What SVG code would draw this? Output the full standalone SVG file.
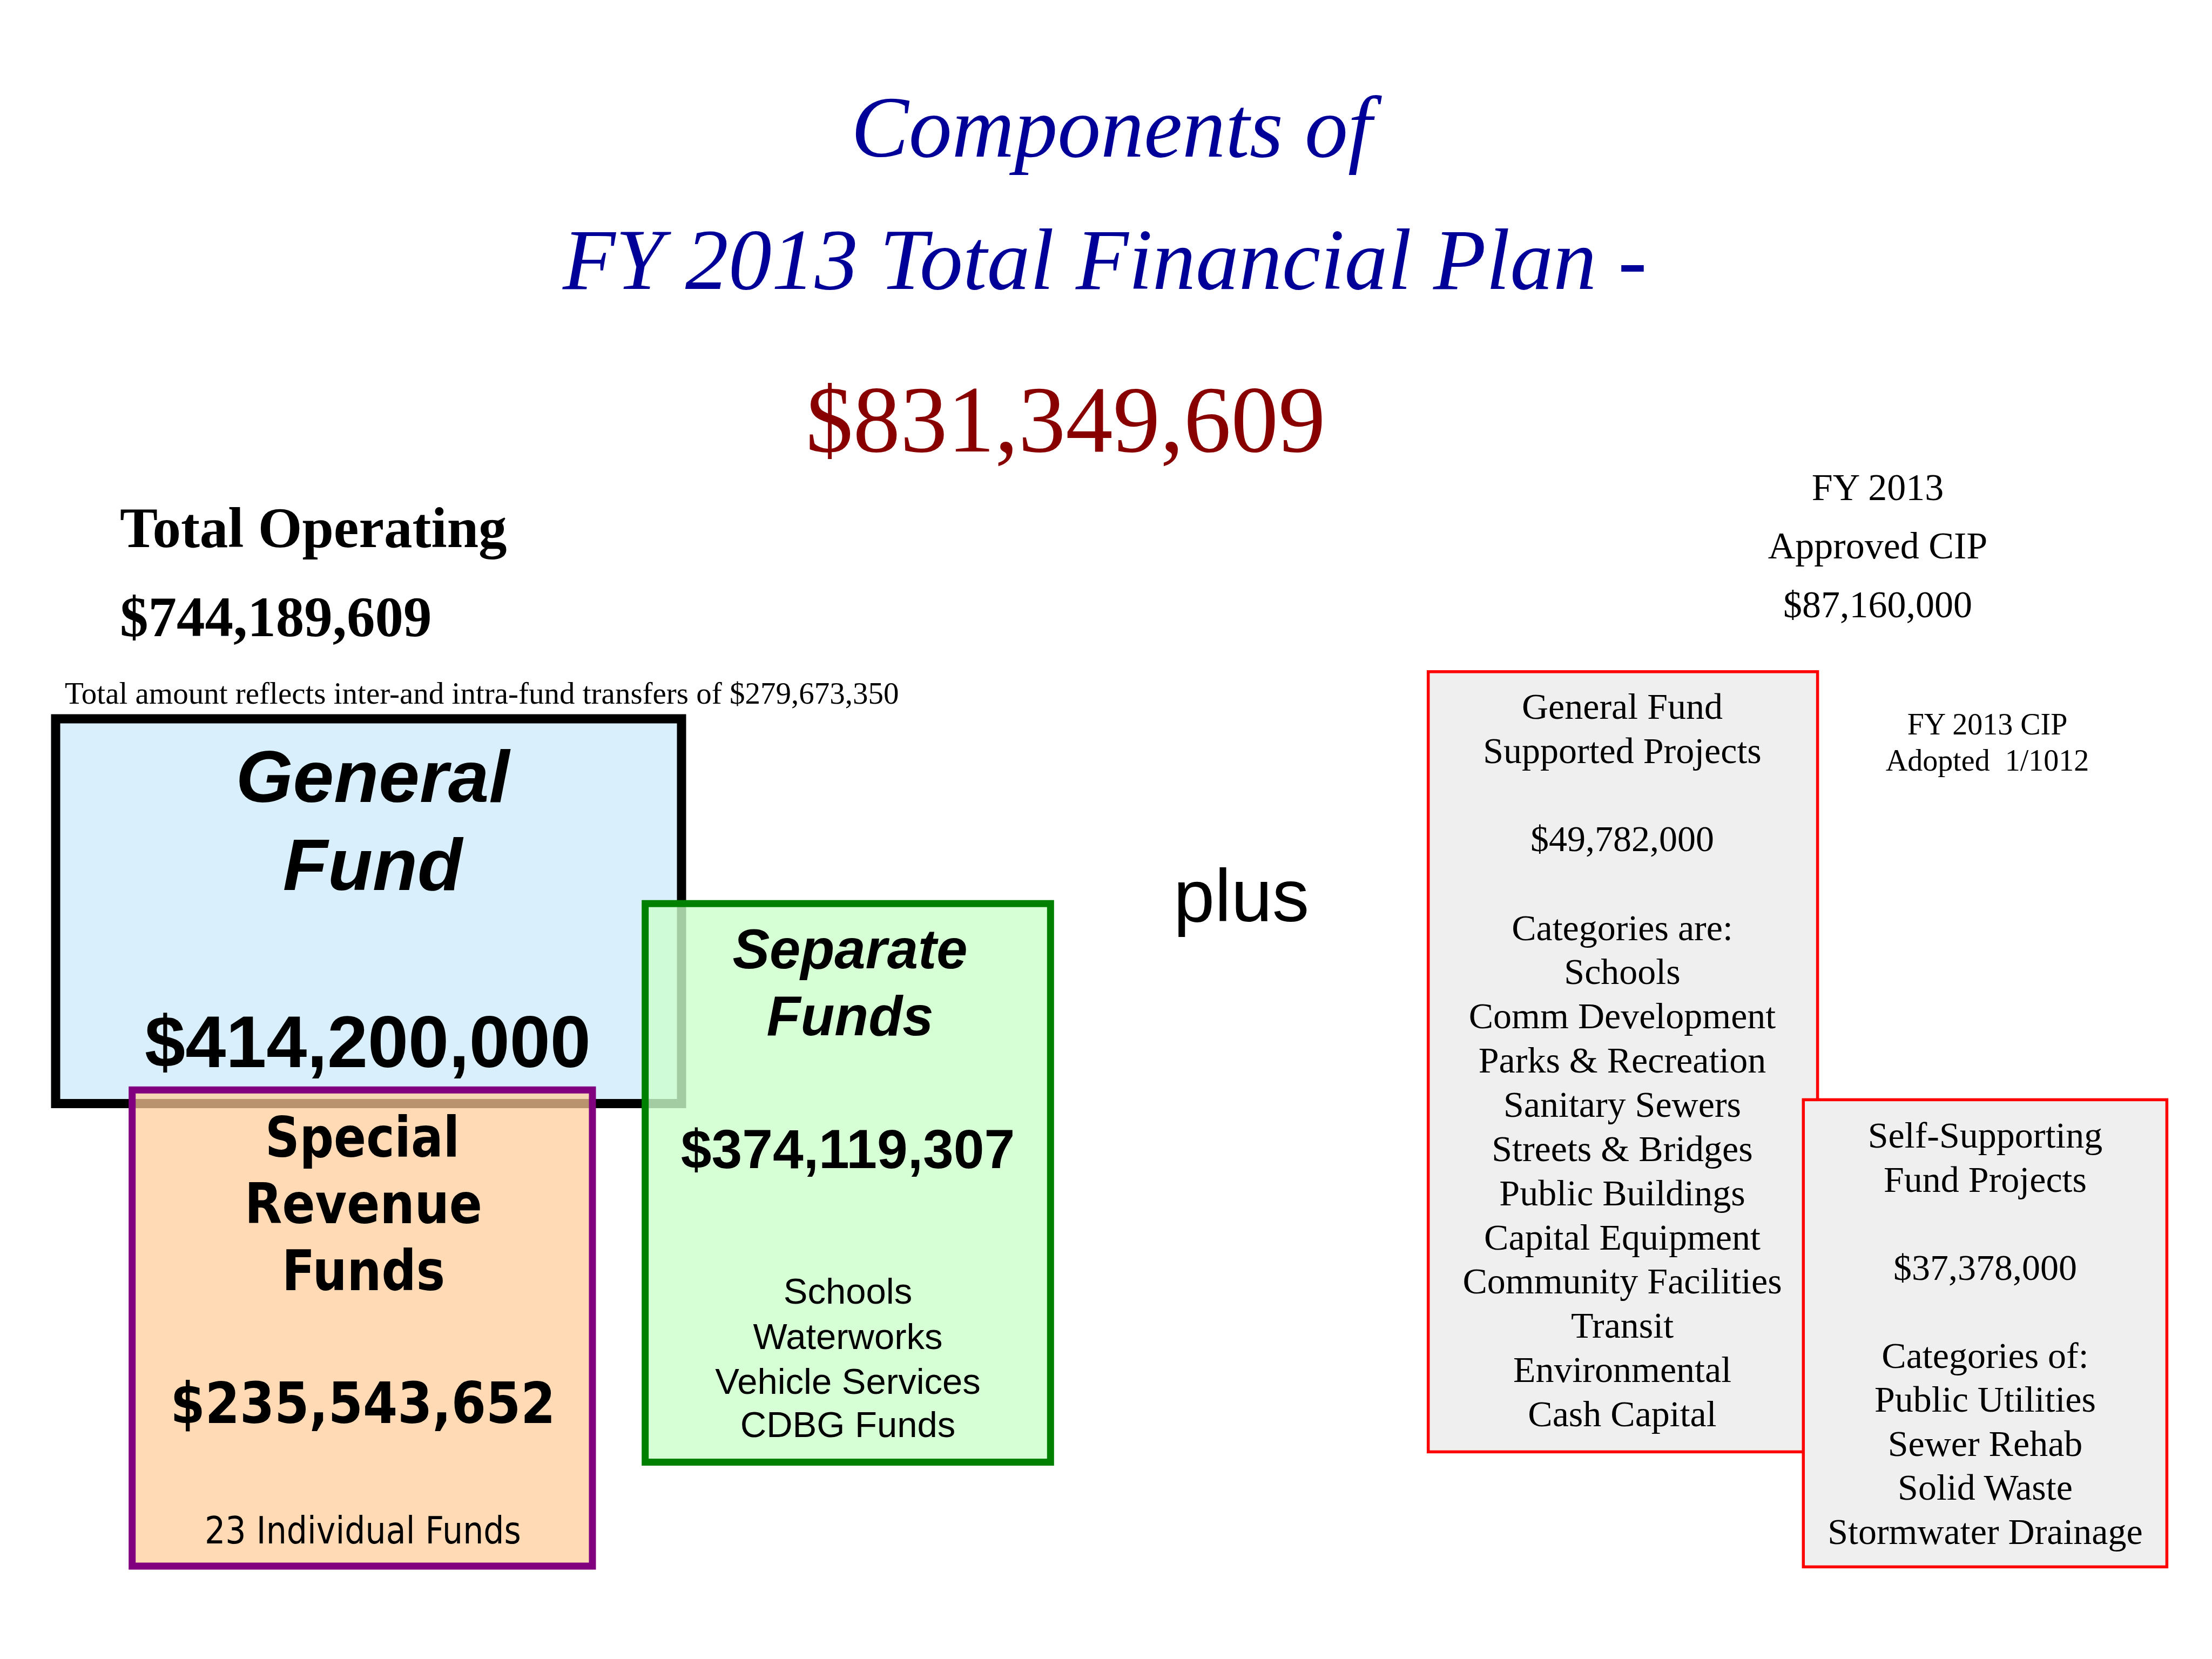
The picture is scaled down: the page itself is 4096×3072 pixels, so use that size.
<svg xmlns="http://www.w3.org/2000/svg" width="4096" height="3072" viewBox="0 0 4096 3072">
<style>
.serif{font-family:"Liberation Serif","Times New Roman",serif}
.sans{font-family:"Liberation Sans",Arial,sans-serif}
.tah{font-family:"DejaVu Sans",Verdana,sans-serif}
.title{font-style:italic;font-size:160px;fill:#000099}
.mid{text-anchor:middle}
.cip{font-size:68px;fill:#000}
.cipbox{fill:#EFEFEF;stroke:#FF0000;stroke-width:5.5}
.note{font-size:56px}
.top{font-size:70px}
</style>
<rect x="0" y="0" width="4096" height="3072" fill="#FFFFFF"/>

<g id="title">
<text class="serif title" x="1576" y="290">Components of</text>
<text class="serif title" x="1042" y="535">FY 2013 Total Financial Plan -</text>
<text class="serif" x="1492" y="836" font-size="175" fill="#880000">$831,349,609</text>
</g>

<g id="total-operating">
<text class="serif" x="222" y="1013" font-size="105" font-weight="bold">Total Operating</text>
<text class="serif" x="222" y="1178" font-size="105" font-weight="bold">$744,189,609</text>
<text class="serif" x="120" y="1303" font-size="57">Total amount reflects inter-and intra-fund transfers of $279,673,350</text>
</g>

<g id="general-fund">
<rect x="103" y="1331" width="1159" height="712.5" fill="#D9EFFC" stroke="#000000" stroke-width="17"/>
<text class="sans mid" x="690" y="1485" font-size="136" font-weight="bold" font-style="italic">General</text>
<text class="sans mid" x="690" y="1648" font-size="136" font-weight="bold" font-style="italic">Fund</text>
<text class="sans mid" x="681" y="1976" font-size="135" font-weight="bold">$414,200,000</text>
</g>

<g id="separate-funds">
<rect x="1194.7" y="1673.2" width="750.6" height="1034.3" fill="#CCFFCC" fill-opacity="0.8" stroke="#008000" stroke-width="13"/>
<text class="sans mid" x="1574" y="1793" font-size="103" font-weight="bold" font-style="italic">Separate</text>
<text class="sans mid" x="1574" y="1917" font-size="103" font-weight="bold" font-style="italic">Funds</text>
<text class="sans mid" x="1570" y="2163" font-size="102" font-weight="bold">$374,119,307</text>
<text class="sans mid" x="1570" y="2414" font-size="67">Schools</text>
<text class="sans mid" x="1570" y="2498" font-size="67">Waterworks</text>
<text class="sans mid" x="1570" y="2581" font-size="67">Vehicle Services</text>
<text class="sans mid" x="1570" y="2661" font-size="67">CDBG Funds</text>
</g>

<g id="special-revenue-funds">
<rect x="244.7" y="2018.3" width="852.3" height="881.7" fill="#FFCC99" fill-opacity="0.72" stroke="#800080" stroke-width="13"/>
<text class="tah mid" x="671" y="2142" font-size="104" font-weight="bold" textLength="360" lengthAdjust="spacingAndGlyphs">Special</text>
<text class="tah mid" x="673" y="2265" font-size="104" font-weight="bold" textLength="440" lengthAdjust="spacingAndGlyphs">Revenue</text>
<text class="tah mid" x="673" y="2389" font-size="104" font-weight="bold" textLength="302" lengthAdjust="spacingAndGlyphs">Funds</text>
<text class="tah mid" x="672" y="2635" font-size="105" font-weight="bold" textLength="713" lengthAdjust="spacingAndGlyphs">$235,543,652</text>
<text class="tah mid" x="672" y="2858" font-size="69" textLength="586" lengthAdjust="spacingAndGlyphs">23 Individual Funds</text>
</g>

<g id="plus">
<text class="sans" x="2173" y="1706" font-size="137">plus</text>
</g>

<g id="approved-cip">
<text class="serif mid top" x="3477" y="926">FY 2013</text>
<text class="serif mid top" x="3477" y="1034">Approved CIP</text>
<text class="serif mid top" x="3477" y="1143">$87,160,000</text>
</g>

<g id="cip-adopted">
<text class="serif mid note" x="3680" y="1360">FY 2013 CIP</text>
<text class="serif mid note" x="3680" y="1427">Adopted&#160; 1/1012</text>
</g>

<g id="general-fund-supported-projects">
<rect class="cipbox" x="2644.7" y="1243.8" width="720.9" height="1444.6"/>
<text class="serif mid cip" x="3004" y="1331">General Fund</text>
<text class="serif mid cip" x="3004" y="1413">Supported Projects</text>
<text class="serif mid cip" x="3004" y="1576">$49,782,000</text>
<text class="serif mid cip" x="3004" y="1741">Categories are:</text>
<text class="serif mid cip" x="3004" y="1822">Schools</text>
<text class="serif mid cip" x="3004" y="1904">Comm Development</text>
<text class="serif mid cip" x="3004" y="1986">Parks &amp; Recreation</text>
<text class="serif mid cip" x="3004" y="2068">Sanitary Sewers</text>
<text class="serif mid cip" x="3004" y="2150">Streets &amp; Bridges</text>
<text class="serif mid cip" x="3004" y="2232">Public Buildings</text>
<text class="serif mid cip" x="3004" y="2314">Capital Equipment</text>
<text class="serif mid cip" x="3004" y="2395">Community Facilities</text>
<text class="serif mid cip" x="3004" y="2477">Transit</text>
<text class="serif mid cip" x="3004" y="2559">Environmental</text>
<text class="serif mid cip" x="3004" y="2641">Cash Capital</text>
</g>

<g id="self-supporting-fund-projects">
<rect class="cipbox" x="3339.3" y="2036.4" width="673.1" height="865"/>
<text class="serif mid cip" x="3676" y="2125">Self-Supporting</text>
<text class="serif mid cip" x="3676" y="2207">Fund Projects</text>
<text class="serif mid cip" x="3676" y="2370">$37,378,000</text>
<text class="serif mid cip" x="3676" y="2533">Categories of:</text>
<text class="serif mid cip" x="3676" y="2614">Public Utilities</text>
<text class="serif mid cip" x="3676" y="2696">Sewer Rehab</text>
<text class="serif mid cip" x="3676" y="2777">Solid Waste</text>
<text class="serif mid cip" x="3676" y="2859">Stormwater Drainage</text>
</g>

<g id="connectors"></g>
</svg>
